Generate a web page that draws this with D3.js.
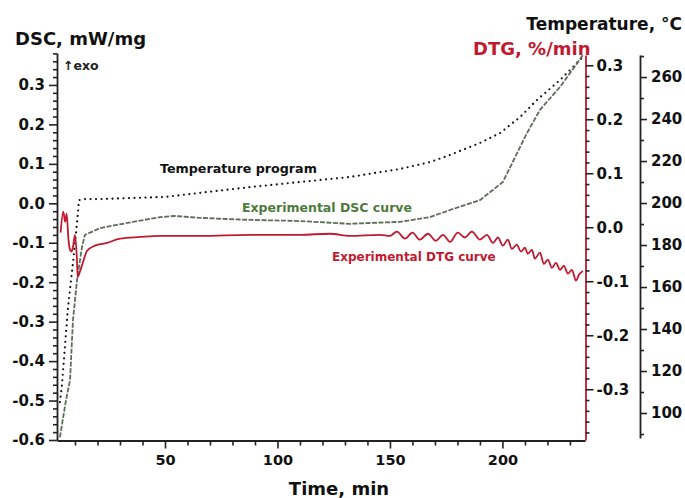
<!DOCTYPE html>
<html>
<head>
<meta charset="utf-8">
<script src="https://cdn.jsdelivr.net/npm/d3@7"></script>
<style>
  html, body { margin: 0; padding: 0; background: #ffffff; }
  svg text { font-family: "DejaVu Sans", "Liberation Sans", Arial, sans-serif; font-weight: bold; }
</style>
</head>
<body>
<svg id="chart" width="685" height="498"></svg>
<script>
// ---------- DATA ----------
// Temperature program (time in min, temperature in °C)
const tempTime = [3.3, 4.2, 6.9, 9.1, 10.9, 11.8, 14.4, 21.1, 50, 87.8, 110, 132.2, 154.4, 167.8, 176.7, 190, 198.9, 207.8, 215.3, 225.6, 236.7];
const tempValues = [105.2, 113.3, 150.5, 171.4, 190.5, 201.4, 201.9, 201.9, 202.9, 207.6, 210, 212.4, 216.2, 219.5, 222.9, 228.6, 233.3, 240.9, 249, 258.6, 270.5];

// Experimental DSC curve (time in min, mW/mg)
const dscTime = [3.3, 6, 7.8, 9.1, 10.9, 13.1, 14.4, 21.1, 35.8, 47.8, 54.4, 65.6, 87.8, 110, 132.2, 154.4, 167.8, 176.7, 190, 200.2, 210.9, 216.7, 225.6, 235.8];
const dscValues = [-0.593, -0.499, -0.448, -0.296, -0.194, -0.111, -0.080, -0.063, -0.047, -0.035, -0.032, -0.037, -0.042, -0.045, -0.052, -0.047, -0.035, -0.017, 0.008, 0.054, 0.178, 0.237, 0.295, 0.376];

// Experimental DTG curve (time in min, %/min)
const dtgTime = [3.6, 4.8, 5.6, 6.3, 7.1, 7.8, 8.5, 9.2, 10.0, 10.8, 11.2, 12.2, 13.6, 15.3, 18.9, 24.2, 30, 38.9, 47.8, 65.6, 87.8, 110, 123.3, 132.2, 145.6, 150.0,
  153.1, 156.7, 160.0, 163.3, 166.9, 170.4, 173.6, 176.7, 180.2, 183.3, 186.4, 190.0, 193.1, 195.8, 198.0, 200.2, 202.4, 204.2, 206.4, 208.2, 210.0,
  211.3, 213.1, 214.4, 216.7, 218.4, 220.2, 222.0, 223.8, 225.6, 227.3, 229.1, 230.9, 232.7, 234.0, 235.8];
const dtgValues = [-0.010, 0.029, 0.010, 0.025, -0.023, -0.042, -0.045, -0.034, -0.014, -0.055, -0.092, -0.082, -0.064, -0.044, -0.034, -0.029, -0.021, -0.018, -0.016, -0.016, -0.014, -0.014, -0.012, -0.016, -0.014, -0.016,
  -0.008, -0.021, -0.010, -0.023, -0.012, -0.025, -0.014, -0.027, -0.010, -0.019, -0.008, -0.023, -0.014, -0.029, -0.019, -0.034, -0.023, -0.040, -0.032, -0.045, -0.038,
  -0.049, -0.042, -0.058, -0.047, -0.068, -0.060, -0.075, -0.066, -0.079, -0.071, -0.086, -0.079, -0.099, -0.088, -0.081];

// Tick labels
const timeTicks = [50, 100, 150, 200];
const timeTickLabels = ["50", "100", "150", "200"];
const dscTicks = [-0.6, -0.5, -0.4, -0.3, -0.2, -0.1, 0.0, 0.1, 0.2, 0.3];
const dscTickLabels = ["-0.6", "-0.5", "-0.4", "-0.3", "-0.2", "-0.1", "0.0", "0.1", "0.2", "0.3"];
const dtgTicks = [-0.3, -0.2, -0.1, 0.0, 0.1, 0.2, 0.3];
const dtgTickLabels = ["-0.3", "-0.2", "-0.1", "0.0", "0.1", "0.2", "0.3"];
const tempTicks = [100, 120, 140, 160, 180, 200, 220, 240, 260];
const tempTickLabels = ["100", "120", "140", "160", "180", "200", "220", "240", "260"];

// ---------- DRAW ----------
const svg = d3.select("#chart");
const RED = "#bf1a2f";
const GREEN = "#4f7a3e";

const x = d3.scaleLinear().domain([2, 236.7]).range([57, 585]);
const yDsc = d3.scaleLinear().domain([-0.6, 0.381]).range([440, 53]);
const yDtg = d3.scaleLinear().domain([-0.394, 0.319]).range([440, 55]);
const yT = d3.scaleLinear().domain([88.1, 270.5]).range([438, 55]);

function styleAxis(g, size) {
  g.selectAll("text").attr("font-size", size).attr("fill", "#111").style("font-weight", "bold");
  g.selectAll("line").attr("stroke", "#222").attr("stroke-width", 1.6);
  g.select(".domain").attr("stroke", "#222").attr("stroke-width", 1.8);
}

// minor ticks (positions only)
const minorTime = d3.range(10, 236, 10).filter(v => v % 50 !== 0);
const minorDsc = d3.range(-0.58, 0.39, 0.02).filter(v => Math.abs(Math.round(v * 10) - v * 10) > 0.01);
const minorDtg = d3.range(-0.38, 0.32, 0.02).filter(v => Math.abs(Math.round(v * 10) - v * 10) > 0.01);
const minorT = d3.range(90, 271, 20);

// Bottom axis
const gx = svg.append("g").attr("transform", "translate(0,440.5)");
gx.call(d3.axisBottom(x).tickValues(timeTicks).tickFormat((d, i) => timeTickLabels[i]).tickSize(8).tickSizeOuter(0).tickPadding(6));
styleAxis(gx, 14.5);
const gxm = svg.append("g").attr("transform", "translate(0,440.5)");
gxm.call(d3.axisBottom(x).tickValues(minorTime).tickFormat("").tickSize(5).tickSizeOuter(0));
styleAxis(gxm, 10); gxm.select(".domain").remove();

// Left DSC axis
const gy = svg.append("g").attr("transform", "translate(57,0)");
gy.call(d3.axisLeft(yDsc).tickValues(dscTicks).tickFormat((d, i) => dscTickLabels[i]).tickSize(8).tickSizeOuter(0).tickPadding(4));
styleAxis(gy, 15);
const gym = svg.append("g").attr("transform", "translate(57,0)");
gym.call(d3.axisLeft(yDsc).tickValues(minorDsc).tickFormat("").tickSize(4).tickSizeOuter(0));
styleAxis(gym, 10); gym.select(".domain").remove();

// Red DTG axis
const gd = svg.append("g").attr("transform", "translate(585.5,0)");
gd.call(d3.axisRight(yDtg).tickValues(dtgTicks).tickFormat((d, i) => dtgTickLabels[i]).tickSize(8).tickSizeOuter(0).tickPadding(3));
styleAxis(gd, 15);
gd.select(".domain").attr("stroke", RED);
const gdm = svg.append("g").attr("transform", "translate(585.5,0)");
gdm.call(d3.axisRight(yDtg).tickValues(minorDtg).tickFormat("").tickSize(4).tickSizeOuter(0));
styleAxis(gdm, 10); gdm.select(".domain").remove();

// Temperature axis
const gt = svg.append("g").attr("transform", "translate(640,0)");
gt.call(d3.axisRight(yT).tickValues(tempTicks).tickFormat((d, i) => tempTickLabels[i]).tickSize(7).tickSizeOuter(0).tickPadding(4));
styleAxis(gt, 15);
const gtm = svg.append("g").attr("transform", "translate(640,0)");
gtm.call(d3.axisRight(yT).tickValues(minorT).tickFormat("").tickSize(4).tickSizeOuter(0));
styleAxis(gtm, 10); gtm.select(".domain").remove();

// Curves
const tempLine = d3.line().x((d, i) => x(tempTime[i])).y(d => yT(d));
svg.append("path").datum(tempValues).attr("d", tempLine)
  .attr("fill", "none").attr("stroke", "#111").attr("stroke-width", 2.2)
  .attr("stroke-linecap", "round").attr("stroke-dasharray", "0,5.5");

const dscLine = d3.line().x((d, i) => x(dscTime[i])).y(d => yDsc(d));
svg.append("path").datum(dscValues).attr("d", dscLine)
  .attr("fill", "none").attr("stroke", "#5e6d5c").attr("stroke-width", 1.8)
  .attr("stroke-dasharray", "5,1.5");

const dtgLine = d3.line().x((d, i) => x(dtgTime[i])).y(d => yDtg(d)).curve(d3.curveMonotoneX);
svg.append("path").datum(dtgValues).attr("d", dtgLine)
  .attr("fill", "none").attr("stroke", RED).attr("stroke-width", 1.8);

// Titles and labels
svg.append("text").attr("x", 15).attr("y", 45).attr("font-size", 18).attr("fill", "#111").text("DSC, mW/mg");
svg.append("text").attr("x", 682).attr("y", 30).attr("font-size", 17).attr("text-anchor", "end").attr("fill", "#111").text("Temperature, °C");
svg.append("text").attr("x", 473).attr("y", 55).attr("font-size", 18).attr("fill", RED).text("DTG, %/min");
svg.append("text").attr("x", 339).attr("y", 495).attr("font-size", 18).attr("text-anchor", "middle").attr("fill", "#111").text("Time, min");
svg.append("text").attr("x", 63).attr("y", 70).attr("font-size", 12.5).attr("fill", "#222").text("↑exo");

svg.append("text").attr("x", 160).attr("y", 173).attr("font-size", 12.7).attr("fill", "#111").text("Temperature program");
svg.append("text").attr("x", 242).attr("y", 212).attr("font-size", 12.5).attr("fill", GREEN).text("Experimental DSC curve");
svg.append("text").attr("x", 332).attr("y", 261).attr("font-size", 12).attr("fill", RED).text("Experimental DTG curve");
</script>
</body>
</html>
